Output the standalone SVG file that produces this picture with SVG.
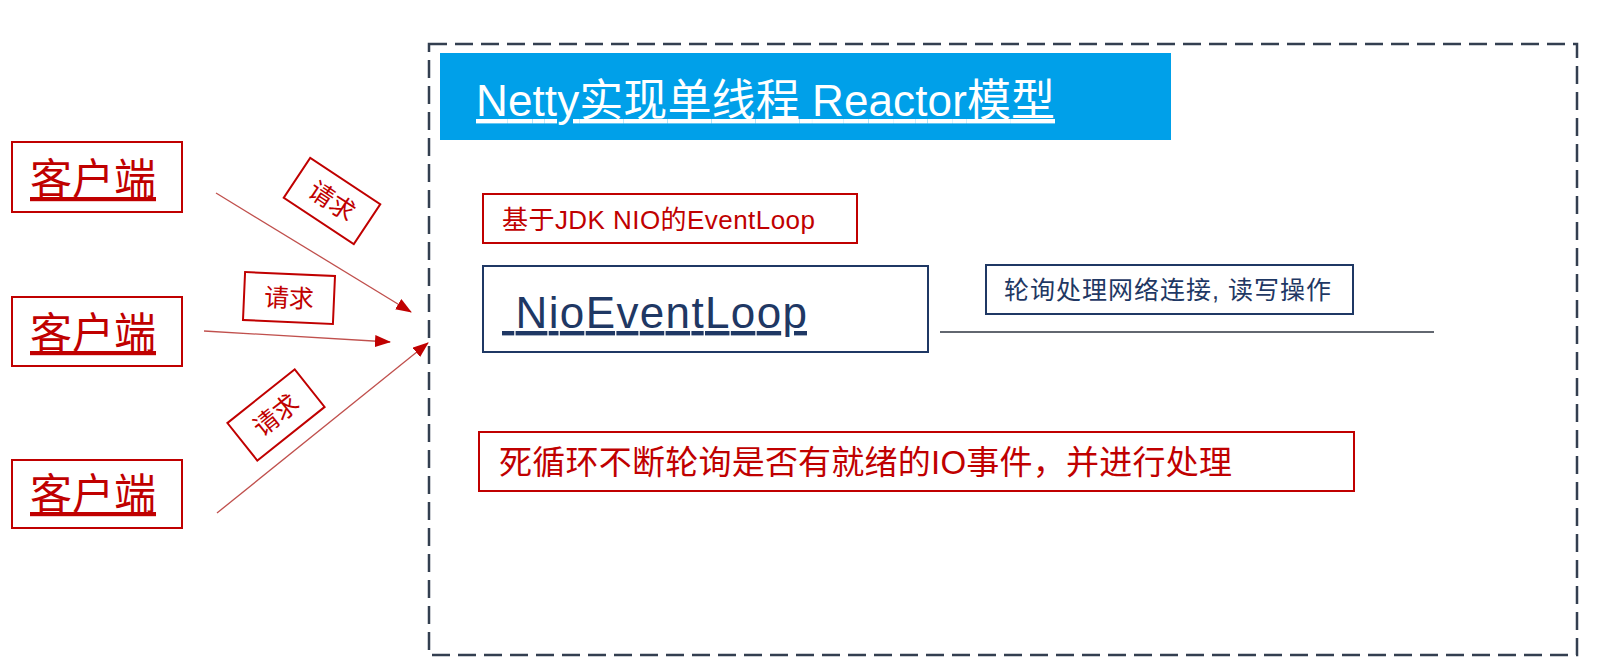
<svg xmlns="http://www.w3.org/2000/svg" width="1606" height="672" viewBox="0 0 1606 672">
<defs>
<style>
.t{font-family:"Liberation Sans","Noto Sans CJK SC",sans-serif}
.rbox{fill:#fff;stroke:#c00000;stroke-width:2}
.nbox{fill:#fff;stroke:#1f3864;stroke-width:2}
.client{font-size:42px;fill:#c00000;text-decoration:underline}
.req{font-size:25px;fill:#c00000;text-anchor:middle}
.conn{stroke:#c0504d;stroke-width:1.3;fill:none}
</style>
<marker id="ah" markerUnits="userSpaceOnUse" markerWidth="16" markerHeight="12" refX="15" refY="6" orient="auto">
<path d="M0,0 L16,6 L0,12 z" fill="#c00000"/>
</marker>
</defs>
<rect width="1606" height="672" fill="#fff"/>

<g id="container">
<rect x="429" y="44" width="1148" height="611" fill="none" stroke="#333f50" stroke-width="2.5" stroke-dasharray="18 8"/>
</g>

<g id="title">
<rect x="440" y="53" width="731" height="87" fill="#00a0e9"/>
<text class="t" x="476" y="116" font-size="44" fill="#fff" text-decoration="underline" textLength="579">Netty实现单线程 Reactor模型</text>
</g>

<g id="client1">
<rect class="rbox" x="12" y="142" width="170" height="70"/>
<text class="t client" x="30" y="194">客户端</text>
</g>
<g id="client2">
<rect class="rbox" x="12" y="297" width="170" height="69"/>
<text class="t client" x="30" y="348">客户端</text>
</g>
<g id="client3">
<rect class="rbox" x="12" y="460" width="170" height="68"/>
<text class="t client" x="30" y="509">客户端</text>
</g>

<g id="connectors">
<line class="conn" x1="216" y1="193" x2="411" y2="312" marker-end="url(#ah)"/>
<line class="conn" x1="204" y1="331" x2="390" y2="342" marker-end="url(#ah)"/>
<line class="conn" x1="217" y1="513" x2="428" y2="343" marker-end="url(#ah)"/>
<line x1="940" y1="332" x2="1434" y2="332" stroke="#2e3440" stroke-width="1.3"/>
</g>

<g id="label1" transform="translate(332,201) rotate(33.5)">
<rect class="rbox" x="-42" y="-24" width="84" height="48"/>
<text class="t req" x="0" y="9">请求</text>
</g>
<g id="label2" transform="translate(289,298) rotate(2.5)">
<rect class="rbox" x="-45" y="-24" width="90" height="48"/>
<text class="t req" x="0" y="9">请求</text>
</g>
<g id="label3" transform="translate(276,415) rotate(-38.5)">
<rect class="rbox" x="-43" y="-24" width="86" height="48"/>
<text class="t req" x="0" y="9">请求</text>
</g>

<g id="jdk-nio">
<rect class="rbox" x="483" y="194" width="374" height="49"/>
<text class="t" x="502" y="229" font-size="26" fill="#c00000" textLength="313">基于JDK NIO的EventLoop</text>
</g>

<g id="nioeventloop">
<rect class="nbox" x="483" y="266" width="445" height="86"/>
<text class="t" x="502" y="328" font-size="44" fill="#1f3864" text-decoration="underline" xml:space="preserve" textLength="305"> NioEventLoop</text>
</g>

<g id="polling-note">
<rect class="nbox" x="986" y="265" width="367" height="49"/>
<text class="t" x="1004" y="299" font-size="25" fill="#1f3864" textLength="327">轮询处理网络连接, 读写操作</text>
</g>

<g id="loop-note">
<rect class="rbox" x="479" y="432" width="875" height="59"/>
<text class="t" x="499" y="474" font-size="33" fill="#c00000" textLength="733">死循环不断轮询是否有就绪的IO事件，并进行处理</text>
</g>
</svg>
